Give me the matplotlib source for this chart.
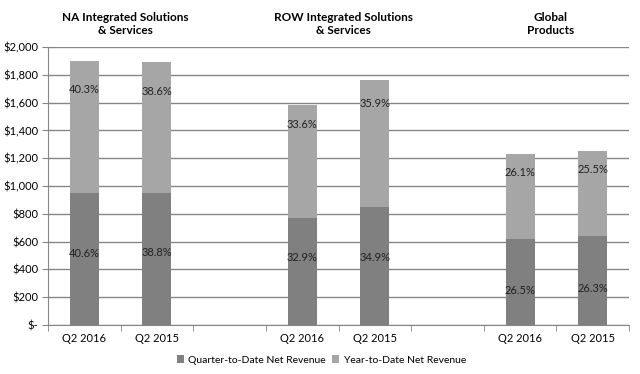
import matplotlib
matplotlib.use("Agg")
import matplotlib.pyplot as plt
import matplotlib.ticker as mticker
import numpy as np

plt.rcParams['font.family'] = ['Lato', 'DejaVu Sans']

# categories (blank slots separate the three groups)
categories = ['Q2 2016', 'Q2 2015', '', 'Q2 2016', 'Q2 2015', '', 'Q2 2016', 'Q2 2015']
bar_slots = [0, 1, 3, 4, 6, 7]

# values in $ millions
qtd_revenue = [947, 947, 767, 847, 617, 640]
ytd_total = [1899, 1892, 1580, 1763, 1230, 1252]
ytd_extra = [t - q for t, q in zip(ytd_total, qtd_revenue)]

qtd_pct = ['40.6%', '38.8%', '32.9%', '34.9%', '26.5%', '26.3%']
ytd_pct = ['40.3%', '38.6%', '33.6%', '35.9%', '26.1%', '25.5%']
# where the percentage boxes sit (data units, as in the original)
qtd_pct_y = [518, 525, 489, 489, 245, 266]
ytd_pct_y = [1698, 1683, 1446, 1597, 1101, 1122]

group_titles = ['NA Integrated Solutions\n& Services',
                'ROW Integrated Solutions\n& Services',
                'Global\nProducts']
group_centers = [0.57, 3.57, 6.42]

dark = '#808080'
light = '#a6a6a6'
axis_col = '#868686'

fig = plt.figure(figsize=(6.4, 3.74), dpi=100)
ax = fig.add_axes([0.075, 0.131, 0.908, 0.743])

ax.bar(bar_slots, qtd_revenue, width=0.4, color=dark, zorder=3,
       label='Quarter-to-Date Net Revenue')
ax.bar(bar_slots, ytd_extra, width=0.4, bottom=qtd_revenue, color=light, zorder=3,
       label='Year-to-Date Net Revenue')

for x, lab, y in zip(bar_slots, qtd_pct, qtd_pct_y):
    ax.text(x, y, lab, ha='center', va='center', fontsize=8, color='#222222', zorder=4)
for x, lab, y in zip(bar_slots, ytd_pct, ytd_pct_y):
    ax.text(x, y, lab, ha='center', va='center', fontsize=8, color='#222222', zorder=4)

# group headings above the plot
for x, t in zip(group_centers, group_titles):
    ax.text(x, 2080, t, ha='center', va='bottom', fontsize=8.5, fontweight='bold',
            linespacing=1.25, clip_on=False)

ax.set_xlim(-0.5, 7.5)
ax.set_ylim(0, 2000)
ax.set_yticks(np.arange(0, 2001, 200))
ax.yaxis.set_major_formatter(mticker.FuncFormatter(
    lambda v, p: '$-' if v == 0 else '${:,.0f}'.format(v)))
ax.grid(axis='y', color=axis_col, linewidth=1, zorder=0)

ax.set_xticks(range(len(categories)))
ax.set_xticklabels(categories)
ax.set_xticks(np.arange(-0.5, 7.6, 1), minor=True)
ax.tick_params(axis='x', which='major', length=0, pad=6, labelsize=8)
ax.tick_params(axis='x', which='minor', length=4, color=axis_col)
ax.tick_params(axis='y', length=4, color=axis_col, labelsize=8, pad=3)

for s in ['top', 'right']:
    ax.spines[s].set_visible(False)
for s in ['left', 'bottom']:
    ax.spines[s].set_color(axis_col)

fig.legend(loc='lower center', bbox_to_anchor=(0.502, 0.0), ncol=2, frameon=False,
           fontsize=7.5, handlelength=0.7, handleheight=0.7, columnspacing=0.6,
           handletextpad=0.4)

fig.savefig('out.png', dpi=100)
